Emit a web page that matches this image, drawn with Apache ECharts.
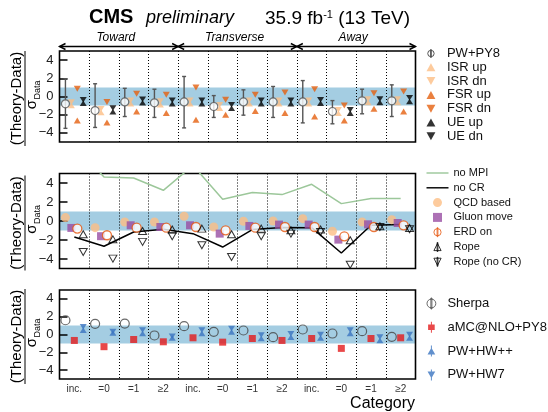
<!DOCTYPE html>
<html><head><meta charset="utf-8">
<script src="https://cdn.jsdelivr.net/npm/echarts@6/dist/echarts.min.js"></script>
<style>html,body{margin:0;padding:0;background:#fff;}#c{width:548px;height:412px;}</style>
</head><body><div id="c"></div>
<script>
// ---------- data ----------
const categories = ['inc.', '=0', '=1', '\u22652', 'inc.', '=0', '=1', '\u22652', 'inc.', '=0', '=1', '\u22652'];
const regions = ['Toward', 'Transverse', 'Away'];
const regionStart = [0, 4, 8];
const regionEnd = [4, 8, 12];
const yTicks = [-4, -2, 0, 2, 4];
const bandRange = [-1, 1];

// panel 1
const pwpy8     = [-0.8, -1.55, -0.6, -0.7, -0.6, -1.1, -0.6, -0.6, -0.6, -1.65, -0.47, -0.47];
const pwpy8Low  = [-3.5, -3.4, -2.2, -2.3, -3.45, -2.3, -2.05, -2.3, -2.9, -3.0, -1.9, -2.2];
const pwpy8High = [1.95, 1.4, 0.9, 0.8, 2.2, 0.1, 0.73, 1.1, 1.75, -0.45, 0.8, 1.28];
const isrUp = [-1.0, -1.75, -0.8, -0.9, -0.8, -1.3, -0.8, -0.8, -0.8, -1.85, -0.67, -0.67];
const isrDn = [-0.6, -1.35, -0.4, -0.5, -0.4, -0.9, -0.4, -0.4, -0.4, -1.45, -0.27, -0.27];
const fsrUp = [-2.65, -2.85, -1.65, -1.8, -2.55, -2.0, -1.6, -1.8, -2.2, -2.65, -1.35, -1.65];
const fsrDn = [0.85, -0.6, 0.3, 0.2, 1.0, -0.35, 0.2, 0.45, 0.8, -1.0, 0.37, 0.55];
const ueUp  = [-0.75, -1.67, -0.7, -0.8, -0.8, -1.3, -0.8, -0.8, -0.75, -1.85, -0.67, -0.55];
const ueDn  = [-0.35, -1.27, -0.3, -0.4, -0.4, -0.9, -0.4, -0.4, -0.35, -1.45, -0.27, -0.15];

// panel 2
const noMPI     = [8.0, 4.63, 4.53, 3.23, 5.85, 2.28, 2.99, 2.78, 3.86, 1.83, 2.36, 2.36];
const noCR      = [-1.68, -2.66, -1.16, -0.87, -1.33, -2.74, -0.9, -0.68, -0.7, -3.37, -0.45, -0.38];
const qcdBased  = [0.36, -0.7, -0.1, -0.1, 0.5, -0.63, -0.03, 0.0, 0.25, -1.08, -0.1, 0.14];
const gluonMove = [-0.73, -1.6, -0.45, -0.63, -0.45, -1.33, -0.52, -0.38, -0.38, -1.96, -0.35, -0.21];
const erdOn     = [-0.8, -1.5, -0.7, -0.7, -0.63, -0.98, -0.7, -0.63, -0.63, -1.61, -0.63, -0.45];
const rope      = [-1.4, -1.93, -1.05, -0.9, -0.8, -1.4, -0.8, -0.98, -0.9, -2.03, -0.56, -0.74];
const ropeNoCR  = [-3.26, -3.96, -2.2, -1.61, -2.56, -3.79, -1.61, -1.33, -1.16, -4.6, -0.63, -0.87];

// panel 3
const sherpa = [1.6, 1.2, 1.23, -0.11, 0.93, 0.3, 0.45, -0.3, 0.56, 0.11, 0.37, -0.26];
const amcnlo = [-0.67, -1.37, -0.56, -0.82, -0.37, -0.86, -0.45, -0.67, -0.45, -1.56, -0.45, -0.37];
const pwHWpp = [0.47, 0.18, 0.1, -0.4, 0.1, 0.28, -0.46, -0.31, -0.39, 0.1, -0.68, -0.39];
const pwHW7  = [0.87, 0.34, 0.5, -0.2, 0.5, 0.68, -0.06, 0.09, 0.01, 0.5, -0.28, 0.01];

// ---------- chart ----------
const F = "'Liberation Sans', Arial, Helvetica, sans-serif";
const NC = categories.length;
const grids = [
  {left: 59.5, top: 51, width: 356, height: 91},
  {left: 59.5, top: 173.5, width: 356, height: 95},
  {left: 59.5, top: 290, width: 356, height: 89}
];
const pts = (arr, off) => arr.map((v, i) => [i + off, v]);
const fmt = v => (v < 0 ? '\u2212' + (-v) : String(v));

const xAxes = grids.map((g, i) => ({
  type: 'value', gridIndex: i, min: 0, max: NC, interval: 1,
  axisLine: {show: false}, axisTick: {show: false}, axisLabel: {show: false},
  splitLine: {show: true, lineStyle: {color: '#000', width: 1, type: [1, 2]}}
}));
xAxes.push({
  type: 'category', gridIndex: 2, data: categories, position: 'bottom', boundaryGap: true,
  axisLine: {show: false}, axisTick: {show: false}, splitLine: {show: false},
  axisLabel: {interval: 0, fontFamily: F, fontSize: 10, color: '#333', margin: 5}
});
const yAxes = grids.map((g, i) => ({
  type: 'value', gridIndex: i, min: -5, max: 5, interval: 1,
  axisLine: {show: false}, splitLine: {show: false},
  axisTick: {show: true, inside: true, length: 8, customValues: yTicks, lineStyle: {color: '#000', width: 1.5}},
  axisLabel: {customValues: yTicks, formatter: fmt, fontFamily: F, fontSize: 13, color: '#222', margin: 6}
}));

const series = [];
// blue band
grids.forEach((g, i) => {
  series.push({
    type: 'custom', xAxisIndex: i, yAxisIndex: i, z: -1, silent: true,
    data: [[NC / 2, bandRange[0], bandRange[1]]], encode: {x: 0, y: [1, 2]},
    renderItem: (p, api) => {
      const a = api.coord([0, api.value(2)]);
      const b = api.coord([NC, api.value(1)]);
      return {type: 'rect', shape: {x: a[0], y: a[1], width: b[0] - a[0], height: b[1] - a[1]}, style: {fill: '#a4cde2'}};
    }
  });
});
// region arrows
series.push({
  type: 'custom', xAxisIndex: 0, yAxisIndex: 0, silent: true, clip: false,
  data: regions.map((r, i) => [regionStart[i], regionEnd[i], i]), encode: {x: [0, 1]},
  renderItem: (p, api) => {
    const y = p.coordSys.y - 4.5;
    const x1 = api.coord([api.value(0), 0])[0];
    const x2 = api.coord([api.value(1), 0])[0];
    const st = {stroke: '#000', lineWidth: 1.4, fill: null};
    return {type: 'group', children: [
      {type: 'line', shape: {x1: x1, y1: y, x2: x2, y2: y}, style: st},
      {type: 'polyline', shape: {points: [[x1 + 6, y - 3], [x1, y], [x1 + 6, y + 3]]}, style: st},
      {type: 'polyline', shape: {points: [[x2 - 6, y - 3], [x2, y], [x2 - 6, y + 3]]}, style: st},
      {type: 'text', x: (x1 + x2) / 2 - 3, y: y - 8.5, style: {text: regions[api.value(2)], font: 'italic 12px ' + F, fill: '#000', align: 'center', verticalAlign: 'middle'}}
    ]};
  }
});
// PW+PY8 error bars
series.push({
  type: 'custom', name: 'PW+PY8', xAxisIndex: 0, yAxisIndex: 0, silent: true, z: 3,
  data: pwpy8.map((v, i) => [i + 0.2, pwpy8Low[i], pwpy8High[i]]), encode: {x: 0, y: [1, 2]},
  renderItem: (p, api) => {
    const t = api.coord([api.value(0), api.value(2)]);
    const b = api.coord([api.value(0), api.value(1)]);
    const st = {stroke: '#555', lineWidth: 1.4};
    return {type: 'group', children: [
      {type: 'line', shape: {x1: t[0], y1: t[1], x2: b[0], y2: b[1]}, style: st},
      {type: 'line', shape: {x1: t[0] - 2, y1: t[1], x2: t[0] + 2, y2: t[1]}, style: st},
      {type: 'line', shape: {x1: b[0] - 2, y1: b[1], x2: b[0] + 2, y2: b[1]}, style: st}
    ]};
  }
});
function sc(name, g, arr, off, symbol, size, style, rot, z) {
  series.push({type: 'scatter', name: name, xAxisIndex: g, yAxisIndex: g, data: pts(arr, off),
    symbol: symbol, symbolSize: size, symbolRotate: rot || 0, itemStyle: style, z: z || 4, silent: true});
}
const cIsr = '#fdbe85', cFsr = '#e5600f', cPur = '#984ea3', cErd = '#e6550d', cRed = '#e41a1c', cBlu = '#3a74c0', cGrn = '#9cc79a';
sc('PW+PY8', 0, pwpy8, 0.2, 'circle', 8, {color: '#fff', borderColor: '#555', borderWidth: 1.2}, 0, 5);
sc('ISR up', 0, isrUp, 0.4, 'triangle', [7, 5.5], {color: cIsr});
sc('ISR dn', 0, isrDn, 0.4, 'triangle', [7, 5.5], {color: cIsr}, 180);
sc('FSR up', 0, fsrUp, 0.6, 'triangle', [7, 6], {color: cFsr});
sc('FSR dn', 0, fsrDn, 0.6, 'triangle', [7, 6], {color: cFsr}, 180);
sc('UE up', 0, ueUp, 0.8, 'triangle', [7, 5.5], {color: '#000'});
sc('UE dn', 0, ueDn, 0.8, 'triangle', [7, 5.5], {color: '#000'}, 180);

series.push({type: 'line', name: 'no MPI', xAxisIndex: 1, yAxisIndex: 1, data: pts(noMPI, 0.5), symbol: 'none',
  lineStyle: {color: cGrn, width: 1.5}, itemStyle: {color: cGrn}, z: 3, silent: true});
series.push({type: 'line', name: 'no CR', xAxisIndex: 1, yAxisIndex: 1, data: pts(noCR, 0.5), symbol: 'none',
  lineStyle: {color: '#000', width: 1.5}, itemStyle: {color: '#000'}, z: 3, silent: true});
sc('QCD based', 1, qcdBased, 0.2, 'circle', 9, {color: cIsr});
sc('Gluon move', 1, gluonMove, 0.4, 'rect', 8, {color: cPur});
sc('ERD on', 1, erdOn, 0.6, 'circle', 9, {color: '#fff', borderColor: cErd, borderWidth: 1.3});
sc('Rope', 1, rope, 0.8, 'triangle', [8, 7], {color: 'rgba(0,0,0,0)', borderColor: '#000', borderWidth: 1});
sc('Rope (no CR)', 1, ropeNoCR, 0.8, 'triangle', [8, 7], {color: 'rgba(0,0,0,0)', borderColor: '#000', borderWidth: 1}, 180);

sc('Sherpa', 2, sherpa, 0.2, 'circle', 9, {color: 'rgba(0,0,0,0)', borderColor: '#444', borderWidth: 1.2});
sc('aMC@NLO+PY8', 2, amcnlo, 0.5, 'rect', 7, {color: cRed});
sc('PW+HW++', 2, pwHWpp, 0.8, 'triangle', [7, 5.5], {color: cBlu});
sc('PW+HW7', 2, pwHW7, 0.8, 'triangle', [7, 5.5], {color: cBlu}, 180);

const LINE = ' M4.55,0 L5.45,0 L5.45,10 L4.55,10 Z';
const phi = 'path://M1,5 A4,4 0 1 1 9,5 A4,4 0 1 1 1,5 Z' + LINE;
const up = 'path://M0,9 L5,0 L10,9 Z';
const dn = 'path://M0,0 L10,0 L5,9 Z';
const hline = 'path://M0,0 L23,0 L23,1.5 L0,1.5 Z';
const baseLegend = {orient: 'vertical', left: 421.5, itemWidth: 22, selectedMode: false, symbolRotate: 0,
  symbolKeepAspect: true, padding: [0, 5, 0, 5]};
const legends = [
  Object.assign({}, baseLegend, {top: 47, itemHeight: 8, itemGap: 0.8,
    textStyle: {fontFamily: F, fontSize: 13, lineHeight: 13, color: '#111'},
    data: [
      {name: 'PW+PY8', icon: phi, itemStyle: {color: '#fff', borderColor: '#555', borderWidth: 1}},
      {name: 'ISR up', icon: up, itemStyle: {color: cIsr, borderWidth: 0}},
      {name: 'ISR dn', icon: dn, itemStyle: {color: cIsr, borderWidth: 0}},
      {name: 'FSR up', icon: up, itemStyle: {color: cFsr, borderWidth: 0}},
      {name: 'FSR dn', icon: dn, itemStyle: {color: cFsr, borderWidth: 0}},
      {name: 'UE up', icon: up, itemStyle: {color: '#000', borderWidth: 0}},
      {name: 'UE dn', icon: dn, itemStyle: {color: '#000', borderWidth: 0}}
    ]}),
  Object.assign({}, baseLegend, {top: 167, itemHeight: 9, itemGap: 2.8,
    textStyle: {fontFamily: F, fontSize: 11, lineHeight: 12, color: '#111'},
    data: [
      {name: 'no MPI', icon: hline, itemStyle: {color: cGrn, borderWidth: 0}},
      {name: 'no CR', icon: hline, itemStyle: {color: '#000', borderWidth: 0}},
      {name: 'QCD based', icon: 'circle', itemStyle: {color: cIsr, borderWidth: 0}},
      {name: 'Gluon move', icon: 'path://M0,0 L10,0 L10,10 L0,10 Z', itemStyle: {color: cPur, borderWidth: 0}},
      {name: 'ERD on', icon: phi, itemStyle: {color: '#fff', borderColor: cErd, borderWidth: 1}},
      {name: 'Rope', icon: 'path://M1,9 L5,1 L9,9 Z' + LINE, itemStyle: {color: '#fff', borderColor: '#000', borderWidth: 1}},
      {name: 'Rope (no CR)', icon: 'path://M1,1 L9,1 L5,9 Z' + LINE, itemStyle: {color: '#fff', borderColor: '#000', borderWidth: 1}}
    ]}),
  Object.assign({}, baseLegend, {top: 296.5, itemHeight: 11, itemGap: 9.8,
    textStyle: {fontFamily: F, fontSize: 13, lineHeight: 14, color: '#111'},
    data: [
      {name: 'Sherpa', icon: phi, itemStyle: {color: '#fff', borderColor: '#444', borderWidth: 1}},
      {name: 'aMC@NLO+PY8', icon: 'path://M2,2.5 L8,2.5 L8,7.5 L2,7.5 Z' + LINE, itemStyle: {color: cRed, borderWidth: 0}},
      {name: 'PW+HW++', icon: 'path://M1.5,8 L5,2 L8.5,8 Z' + LINE, itemStyle: {color: cBlu, borderWidth: 0}},
      {name: 'PW+HW7', icon: 'path://M1.5,2 L8.5,2 L5,8 Z' + LINE, itemStyle: {color: cBlu, borderWidth: 0}}
    ]})
];

// y-axis titles: (Theory-Data) / sigma_Data
const yTitles = grids.map(g => ({
  type: 'group', x: 25, y: g.top + g.height / 2 + 2, rotation: Math.PI / 2, silent: true,
  children: [
    {type: 'text', x: 0, y: -8.5, style: {text: '(Theory-Data)', font: '15px ' + F, fill: '#000', align: 'center', verticalAlign: 'middle'}},
    {type: 'line', shape: {x1: -47.5, y1: 0, x2: 47.5, y2: 0}, style: {stroke: '#000', lineWidth: 1}},
    {type: 'text', x: -6, y: 6.5, style: {text: '\u03c3', font: '15px ' + F, fill: '#000', align: 'center', verticalAlign: 'middle'}},
    {type: 'text', x: -1, y: 12.5, style: {text: 'Data', font: '9px ' + F, fill: '#000', align: 'left', verticalAlign: 'middle'}}
  ]
}));

const graphic = yTitles.concat([
  {type: 'text', x: 89, y: 17.5, silent: true, style: {text: 'CMS', font: 'bold 20px ' + F, fill: '#000', verticalAlign: 'middle'}},
  {type: 'text', x: 146, y: 17.5, silent: true, style: {text: 'preliminary', font: 'italic 18px ' + F, fill: '#000', verticalAlign: 'middle'}},
  {type: 'text', x: 410, y: 28, silent: true, style: {
    text: '{a|35.9 fb}{s|-1}{a| (13 TeV)}', align: 'right', verticalAlign: 'bottom',
    rich: {a: {fontFamily: F, fontSize: 19, lineHeight: 21, verticalAlign: 'bottom', color: '#000'},
           s: {fontFamily: F, fontSize: 11, lineHeight: 21, verticalAlign: 'bottom', padding: [0, 0, 8, 0], color: '#000'}}}},
  {type: 'text', x: 415, y: 404, silent: true, style: {text: 'Category', font: '16px ' + F, fill: '#000', align: 'right', verticalAlign: 'middle'}}
]);

const chart = echarts.init(document.getElementById('c'), null, {renderer: 'canvas'});
chart.setOption({
  animation: false,
  backgroundColor: '#fff',
  grid: grids.map(g => Object.assign({show: true, borderColor: '#000', borderWidth: 1.6, backgroundColor: 'transparent', outerBoundsMode: 'none', containLabel: false}, g)),
  xAxis: xAxes,
  yAxis: yAxes,
  legend: legends,
  series: series,
  graphic: graphic
});
</script></body></html>
